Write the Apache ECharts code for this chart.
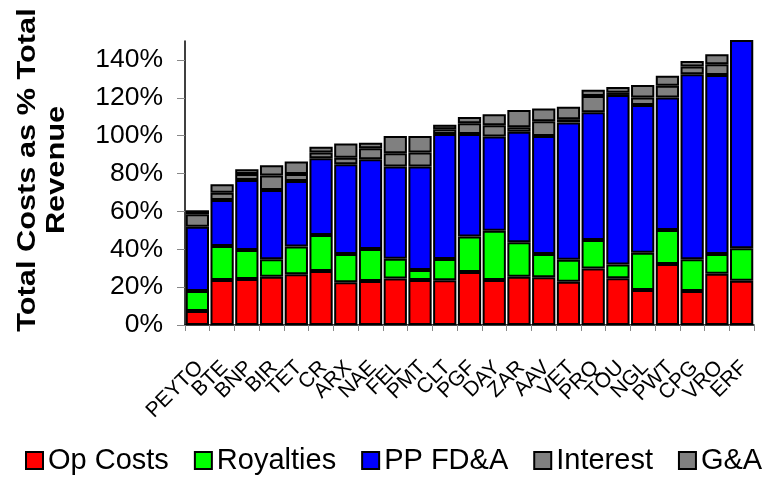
<!DOCTYPE html>
<html>
<head>
<meta charset="utf-8">
<script src="https://cdn.jsdelivr.net/npm/echarts@6/dist/echarts.min.js"></script>
<style>
html,body{margin:0;padding:0;background:#fff;}
#chart{width:772px;height:477px;}
</style>
</head>
<body>
<div id="chart"></div>
<script>
const categories = ['PEYTO','BTE','BNP','BIR','TET','CR','ARX','NAE','FEL','PMT','CLT','PGF','DAY','ZAR','AAV','VET','PRQ','TOU','NGL','PWT','CPG','VRO','ERF'];
const opCosts   = [7.4,23.8,24.3,25.5,26.8,28.5,22.6,23.2,24.5,23.8,23.6,28.0,23.8,25.5,25.2,22.9,29.9,24.7,18.5,32.2,18.0,27.1,23.4];
const royalties = [10.6,17.9,15.3,9.2,14.6,19.0,14.9,17.0,10.5,5.3,11.3,18.7,26.0,18.2,12.3,11.6,15.0,7.2,19.7,18.0,16.7,10.4,17.1];
const ppFDA     = [33.9,24.3,37.0,36.6,34.7,40.6,47.4,47.3,48.7,54.6,66.0,54.2,49.7,58.4,62.3,72.5,67.5,89.6,78.0,69.9,97.7,94.6,115.0];
const interest  = [6.6,3.9,3.2,7.6,3.7,3.0,3.5,5.8,7.0,7.4,2.5,5.6,6.0,2.3,7.8,1.7,8.6,1.2,3.9,6.2,4.1,5.6,3.0];
const gAndA     = [2.1,4.4,2.4,5.5,6.5,3.1,7.4,3.0,9.1,8.7,2.3,3.4,5.8,9.2,6.7,6.6,3.2,3.0,6.7,5.4,3.0,5.3,3.0];
const yTicks    = [0,20,40,60,80,100,120,140];
const seriesNames = ['Op Costs','Royalties','PP FD&A','Interest','G&A'];
const seriesColors = ['#FF0000','#00FF00','#0000FF','#808080','#808080'];
const seriesData = [opCosts, royalties, ppFDA, interest, gAndA];

const FONT = 'Liberation Sans, Arial, sans-serif';
const chart = echarts.init(document.getElementById('chart'), null, {renderer:'canvas'});
chart.setOption({
  animation:false,
  backgroundColor:'#fff',
  textStyle:{fontFamily:FONT},
  grid:{left:185, right:18, top:41, bottom:152, containLabel:false},
  legend:{
    data:seriesNames,
    left:25, top:446, padding:0,
    icon:'rect', itemWidth:17, itemHeight:17, itemGap:25,
    textStyle:{fontSize:29, color:'#000', fontFamily:FONT}
  },
  graphic:[{
    type:'text', x:43, y:170, rotation:Math.PI/2, scaleX:1.23, scaleY:1,
    style:{text:'Total Costs as % Total\nRevenue', font:'bold 25px ' + FONT, fill:'#000', align:'center', verticalAlign:'middle', lineHeight:29}
  }],
  xAxis:{
    type:'category', data:categories,
    axisLine:{lineStyle:{color:'#000', width:1.5}},
    axisTick:{show:true, length:6, lineStyle:{color:'#888', width:1}},
    axisLabel:{interval:0, rotate:45, fontSize:21, color:'#000', margin:27, verticalAlign:'top', padding:[0,7,0,0], fontFamily:FONT}
  },
  yAxis:{
    type:'value', min:0, max:150, interval:20,
    axisLine:{show:true, lineStyle:{color:'#000', width:1.5}},
    axisTick:{show:true, length:8, customValues:yTicks, lineStyle:{color:'#888', width:1}},
    axisLabel:{customValues:yTicks, formatter:v=>v+'%', fontSize:26.5, color:'#000', margin:22, fontFamily:FONT},
    splitLine:{show:false}
  },
  series: seriesNames.map((n,i)=>({
    name:n, type:'bar', stack:'total', data:seriesData[i],
    barCategoryGap:'6%',
    itemStyle:{color:seriesColors[i], borderColor:'#000', borderWidth:2},
    clip:true
  }))
});
</script>
</body>
</html>
